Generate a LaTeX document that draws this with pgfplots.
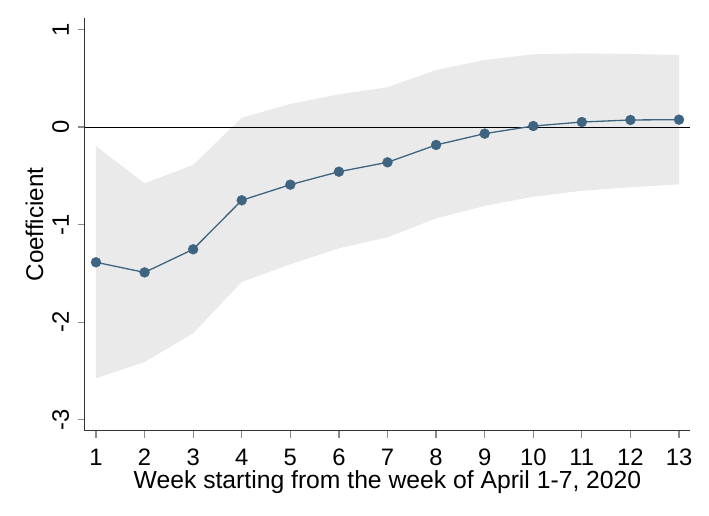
\documentclass[border=0pt]{standalone}
\usepackage{fontspec}
\setmainfont{Liberation Sans}
\usepackage{pgfplots}
\pgfplotsset{compat=1.18}
\definecolor{ser}{HTML}{3D6480}
\definecolor{ci}{HTML}{EAEAEA}
\definecolor{tk}{HTML}{8A8A8A}
\definecolor{ax}{HTML}{333333}
\begin{document}
\begin{tikzpicture}
\path[use as bounding box] (-85pt,-85pt) rectangle (624pt,431pt);
\begin{axis}[
  at={(0pt,0pt)}, anchor=south west,
  scale only axis, width=605pt, height=413pt,
  xmin=0.774, xmax=13.226, ymin=-3.115, ymax=1.117,
  axis x line*=bottom, axis y line*=left,
  axis line style={ax, line width=1pt, -},
  xtick={1,...,13}, ytick={-3,-2,-1,0,1},
  tick align=outside,
  major tick length=7pt,
  every tick/.style={tk, line width=1.2pt},
  /pgf/number format/assume math mode=true,
  tick label style={font=\fontsize{23.8}{28}\selectfont},
  xticklabel style={anchor=base, yshift=-34pt+7pt},
  yticklabel style={xshift=-9pt, rotate=90, anchor=base},
  xlabel={Week starting from the week of April 1-7, 2020},
  ylabel={Coefficient},
  every axis x label/.style={at={(axis description cs:0.5,0)}, anchor=base, yshift=-57.3pt, font=\fontsize{24.7}{28}\selectfont},
  every axis y label/.style={at={(axis description cs:-0.0694,0.5)}, rotate=90, anchor=base, font=\fontsize{24.2}{28}\selectfont},
  clip=false,
]
\addplot[fill=ci, draw=none] coordinates {
(1,-0.195) (2,-0.577) (3,-0.389) (4,0.095) (5,0.236) (6,0.335) (7,0.407)
(8,0.584) (9,0.686) (10,0.745) (11,0.755) (12,0.748) (13,0.738)
(13,-0.587) (12,-0.618) (11,-0.653) (10,-0.714) (9,-0.809) (8,-0.936)
(7,-1.130) (6,-1.243) (5,-1.407) (4,-1.588) (3,-2.114) (2,-2.408) (1,-2.575)
} -- cycle;
\addplot[black, line width=1pt] coordinates {(0.774,0) (13.226,0)};
\addplot[ser, line width=1.3pt, mark=*, mark size=5pt, mark options={solid, fill=ser, draw=ser, line width=0.3pt}] coordinates {
(1,-1.386) (2,-1.490) (3,-1.253) (4,-0.751) (5,-0.591) (6,-0.458) (7,-0.362)
(8,-0.184) (9,-0.068) (10,0.010) (11,0.051) (12,0.072) (13,0.075)
};
\end{axis}
\end{tikzpicture}
\end{document}
